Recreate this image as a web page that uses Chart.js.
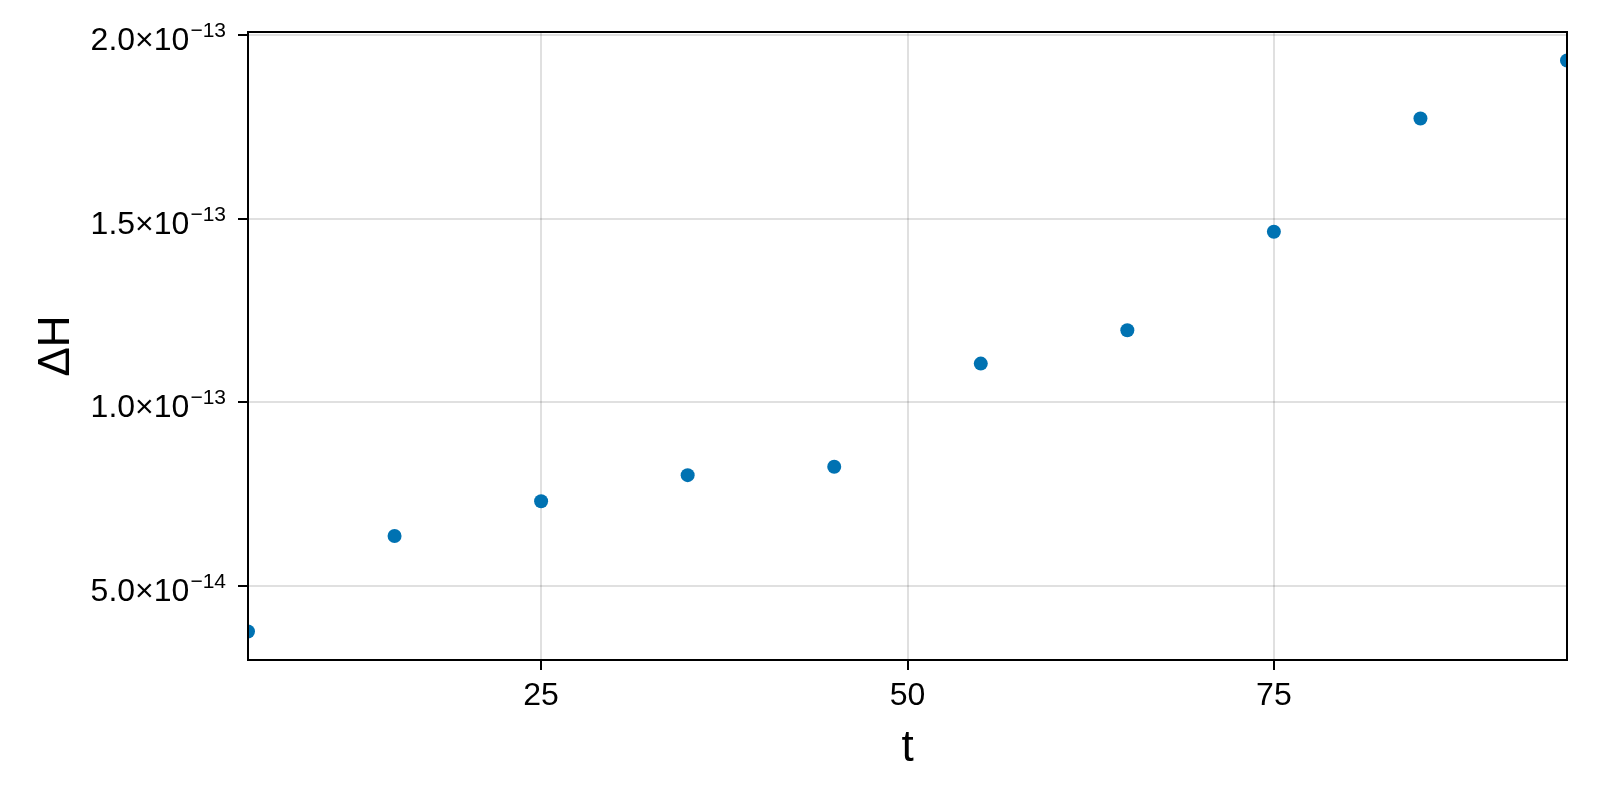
<!DOCTYPE html>
<html>
<head>
<meta charset="utf-8">
<script src="https://cdn.jsdelivr.net/npm/chart.js@4/dist/chart.umd.min.js"></script>
<style>
  body { margin: 0; background: #fff; }
  canvas { display: block; }
</style>
</head>
<body>
<canvas id="energyChart" width="1600" height="800"></canvas>
<script>
const tValues = [5, 15, 25, 35, 45, 55, 65, 75, 85, 95];
const dHValues = [3.75e-14, 6.35e-14, 7.30e-14, 8.01e-14, 8.24e-14, 1.105e-13, 1.196e-13, 1.4645e-13, 1.773e-13, 1.931e-13];
const xTicks = [25, 50, 75];
const yTicks = [5e-14, 1e-13, 1.5e-13, 2e-13];
const yTickMantissa = ["5.0", "1.0", "1.5", "2.0"];
const yTickExponent = ["−14", "−13", "−13", "−13"];

// makie style autolimits: 5% margin on y
const dMin = Math.min(...dHValues);
const dMax = Math.max(...dHValues);
const span = dMax - dMin;

const font = "'Liberation Sans', Arial, Helvetica, sans-serif";

// frame around the plot area
const frame = {
  id: "frame",
  afterDraw(chart) {
    const { ctx, chartArea } = chart;
    ctx.save();
    ctx.strokeStyle = "#000";
    ctx.lineWidth = 2;
    ctx.strokeRect(chartArea.left, chartArea.top, chartArea.right - chartArea.left, chartArea.bottom - chartArea.top);
    ctx.restore();
  },
};

// y tick labels with a real superscript exponent
const sciTicks = {
  id: "sciTicks",
  afterDraw(chart) {
    const { ctx } = chart;
    const scale = chart.scales.y;
    const right = scale.right - 22;
    ctx.save();
    ctx.fillStyle = "#000";
    ctx.textAlign = "right";
    ctx.textBaseline = "alphabetic";
    yTicks.forEach((v, i) => {
      const y = scale.getPixelForValue(v);
      ctx.font = "21px " + font;
      ctx.fillText(yTickExponent[i], right, y + 2);
      const w = ctx.measureText(yTickExponent[i]).width;
      ctx.font = "32px " + font;
      ctx.fillText(yTickMantissa[i] + "×10", right - w - 1, y + 15);
    });
    ctx.restore();
  },
};

const ctx = document.getElementById("energyChart").getContext("2d");
const energyChart = new Chart(ctx, {
  type: "scatter",
  data: {
    datasets: [
      {
        data: tValues.map((t, i) => ({ x: t, y: dHValues[i] })),
        backgroundColor: "#0072B2",
        borderWidth: 0,
        pointRadius: 7,
        pointHoverRadius: 7,
        clip: 0,
      },
    ],
  },
  options: {
    responsive: false,
    animation: false,
    devicePixelRatio: 1,
    events: [],
    layout: { padding: { left: 30, right: 33, top: 32, bottom: 25 } },
    plugins: { legend: { display: false }, tooltip: { enabled: false } },
    scales: {
      x: {
        type: "linear",
        min: 5,
        max: 95,
        afterBuildTicks: (scale) => {
          scale.ticks = xTicks.map((v) => ({ value: v }));
        },
        afterFit: (scale) => {
          scale.height = 115;
        },
        border: { display: false },
        grid: { color: "rgba(0,0,0,0.12)", lineWidth: 2, tickColor: "#000", tickWidth: 2, tickLength: 10 },
        ticks: { color: "#000", font: { family: font, size: 32 }, padding: 7, maxRotation: 0 },
        title: { display: true, text: "t", color: "#000", font: { family: font, size: 44 }, padding: 0 },
      },
      y: {
        type: "linear",
        min: dMin - 0.05 * span,
        max: dMax + 0.05 * span,
        afterBuildTicks: (scale) => {
          scale.ticks = yTicks.map((v) => ({ value: v }));
        },
        afterFit: (scale) => {
          scale.width = 218;
        },
        border: { display: false },
        grid: { color: "rgba(0,0,0,0.12)", lineWidth: 2, tickColor: "#000", tickWidth: 2, tickLength: 10 },
        ticks: { display: false },
        title: { display: true, text: "ΔH", color: "#000", font: { family: font, size: 44 }, padding: 0 },
      },
    },
  },
  plugins: [frame, sciTicks],
});
</script>
</body>
</html>
